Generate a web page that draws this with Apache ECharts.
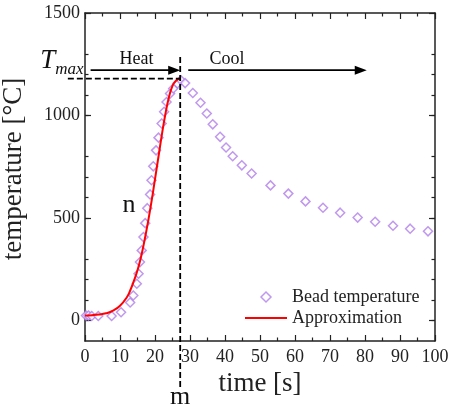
<!DOCTYPE html>
<html>
<head>
<meta charset="utf-8">
<script src="https://cdn.jsdelivr.net/npm/echarts@6/dist/echarts.min.js"></script>
<style>
  html, body { margin: 0; padding: 0; background: #fff; }
  #chart { width: 455px; height: 405px; }
</style>
</head>
<body>
<div id="chart"></div>
<script>
// measured bead temperature [time s, temperature °C]
const beadPoints = [
  [0.3, 24], [1, 24], [1.9, 22], [3.8, 22], [7.6, 22], [10.3, 40],
  [12.9, 88], [13.8, 122], [14.8, 179], [15.3, 228], [15.7, 285], [16.2, 342],
  [16.7, 407], [17.2, 475], [17.8, 548], [18.6, 615], [19.0, 684], [19.5, 752],
  [20.3, 830], [21.0, 892], [21.9, 961], [22.6, 1018], [23.3, 1066], [24.3, 1107],
  [25.2, 1132], [26.4, 1156], [27.4, 1172],
  [28.6, 1158], [30.8, 1110], [33.0, 1062], [34.8, 1010], [36.5, 957], [38.6, 896],
  [40.3, 844], [42.2, 801], [44.8, 757], [47.6, 717], [53, 659], [58.1, 619],
  [63, 581], [68, 550], [72.9, 526], [77.9, 502], [82.9, 482], [88, 462],
  [92.9, 448], [98, 435]
]

// fitted heating curve
const approxPoints = [
  [0, 25], [2, 26], [4, 29], [6, 35], [8, 48], [10, 72], [12, 115], [13, 150],
  [14, 195], [15, 245], [16, 310], [17, 390], [18, 480], [19, 580], [20, 690],
  [21, 800], [22, 910], [23, 1010], [24, 1090], [25, 1145], [26, 1170], [27.2, 1180]
]

const yMajorTicks = [0, 500, 1000, 1500]

// annotations (data coords)
const peak = [27.2, 1180]          // m, Tmax
const tmaxLineStart = -4.9
const mLineRange = [1285, -327]
const heatArrow = [1.6, 27.2, 1221]
const coolArrow = [29.5, 80.5, 1221]

const serif = 'Liberation Serif'
const purple = '#b07ee8'
const axisColor = '#222'

const chart = echarts.init(document.getElementById('chart'))

const xCommon = {
  type: 'value', min: 0, max: 100, interval: 10,
  axisLine: { onZero: false, lineStyle: { color: axisColor, width: 1.5 } },
  axisTick: { inside: true, length: 6, lineStyle: { color: axisColor, width: 1.2 } },
  minorTick: { show: true, splitNumber: 2, length: 3.5, lineStyle: { color: axisColor, width: 1.2 } },
  splitLine: { show: false }
}
const yCommon = {
  type: 'value', min: -100, max: 1500, interval: 500,
  axisLine: { onZero: false, lineStyle: { color: axisColor, width: 1.5 } },
  axisTick: { inside: true, length: 6, customValues: yMajorTicks, lineStyle: { color: axisColor, width: 1.2 } },
  minorTick: { show: true, splitNumber: 5, length: 3.5, lineStyle: { color: axisColor, width: 1.2 } },
  splitLine: { show: false }
}

chart.setOption({
  animation: false,
  grid: { left: 85, right: 20, top: 13, bottom: 64, outerBoundsMode: 'none', containLabel: false },
  legend: {
    orient: 'vertical',
    left: 240,
    top: 283,
    itemWidth: 42,
    itemHeight: 10,
    itemGap: 3,
    symbolKeepAspect: true,
    textStyle: { fontFamily: serif, fontSize: 18, color: '#222' },
    data: [
      { name: 'Bead temperature', icon: 'path://M5,0 L10,5 L5,10 L0,5 Z', itemStyle: { color: '#fff', borderColor: purple, borderWidth: 1.5 } },
      { name: 'Approximation', icon: 'path://M0,0 L42,0 L42,2 L0,2 Z', itemStyle: { color: '#ff0000', borderWidth: 0 } }
    ]
  },
  xAxis: [
    Object.assign({}, xCommon, {
      position: 'bottom',
      name: 'time [s]',
      nameLocation: 'middle',
      nameGap: 28,
      nameTextStyle: { fontFamily: serif, fontSize: 27, color: '#222' },
      axisLabel: { fontFamily: serif, fontSize: 18, color: '#222', margin: 7 }
    }),
    Object.assign({}, xCommon, { position: 'top', axisLabel: { show: false } })
  ],
  yAxis: [
    Object.assign({}, yCommon, {
      position: 'left',
      name: 'temperature [°C]',
      nameLocation: 'middle',
      nameGap: 58,
      nameTextStyle: { fontFamily: serif, fontSize: 27, color: '#222', padding: [0, 0, 0, 16] },
      axisLabel: { customValues: yMajorTicks, formatter: v => String(v), fontFamily: serif, fontSize: 18, color: '#222', margin: 5 }
    }),
    Object.assign({}, yCommon, { position: 'right', axisLabel: { show: false } })
  ],
  series: [
    {
      name: 'Bead temperature',
      type: 'scatter',
      data: beadPoints,
      symbol: 'diamond',
      symbolSize: 9,
      itemStyle: { color: '#fff', borderColor: purple, borderWidth: 1.5 }
    },
    {
      name: 'Approximation',
      type: 'line',
      data: approxPoints,
      smooth: true,
      symbol: 'none',
      lineStyle: { color: '#ff0000', width: 2 },
      itemStyle: { color: '#ff0000' }
    }
  ]
})

// annotations positioned through the axes
const px = p => chart.convertToPixel({ gridIndex: 0 }, p)
const dash = { stroke: '#000', lineWidth: 1.8, lineDash: [6, 3] }

function arrow(x0, x1, y) {
  const a = px([x0, y]), b = px([x1, y])
  return [
    { type: 'line', shape: { x1: a[0], y1: a[1], x2: b[0] - 10, y2: b[1] }, style: { stroke: '#000', lineWidth: 1.8 } },
    { type: 'polygon', shape: { points: [[b[0], b[1]], [b[0] - 12, b[1] - 4.5], [b[0] - 12, b[1] + 4.5]] }, style: { fill: '#000' } }
  ]
}

function label(p, text, size, opts) {
  const q = px(p)
  return {
    type: 'text', x: q[0], y: q[1],
    style: Object.assign({ text: text, fontFamily: serif, fontSize: size, fill: '#111', align: 'center', verticalAlign: 'middle' }, opts || {})
  }
}

const pk = px(peak)
const hStart = px([tmaxLineStart, peak[1]])
const vTop = px([peak[0], mLineRange[0]])
const vBot = px([peak[0], mLineRange[1]])

chart.setOption({
  graphic: [
    { type: 'line', shape: { x1: hStart[0], y1: pk[1], x2: pk[0], y2: pk[1] }, style: dash, z: 10 },
    { type: 'line', shape: { x1: pk[0], y1: vTop[1], x2: pk[0], y2: vBot[1] }, style: dash, z: 10 },
    ...arrow(heatArrow[0], heatArrow[1], heatArrow[2]),
    ...arrow(coolArrow[0], coolArrow[1], coolArrow[2]),
    label([14.7, 1275], 'Heat', 18),
    label([40.6, 1275], 'Cool', 18),
    label([12.6, 562], 'n', 26),
    label([peak[0], -375], 'm', 26),
    label([-8.5, 1265], 'T', 27, { fontStyle: 'italic', align: 'right' }),
    label([-8.5, 1222], 'max', 17, { fontStyle: 'italic', align: 'left' })
  ]
})
</script>
</body>
</html>
